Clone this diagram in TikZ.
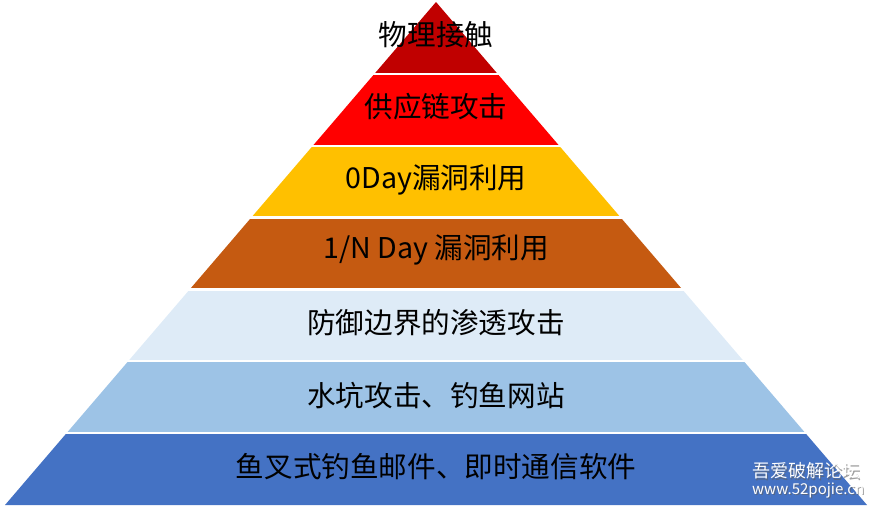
\documentclass[tikz,border=0pt]{standalone}
\usepackage{fontspec}
\setmainfont{Noto Sans CJK SC}
\newfontfamily\cjkf{Noto Sans CJK SC}
\definecolor{lay1}{HTML}{C00000}
\definecolor{lay2}{HTML}{FF0000}
\definecolor{lay3}{HTML}{FFC000}
\definecolor{lay4}{HTML}{C55A11}
\definecolor{lay5}{HTML}{DEEBF7}
\definecolor{lay6}{HTML}{9DC3E6}
\definecolor{lay7}{HTML}{4472C4}
\definecolor{wmshadow}{HTML}{606060}
\tikzset{
  lbl/.style={font=\cjkf\fontsize{28.6}{31}\selectfont, text=black, inner sep=0pt, anchor=center},
  wm/.style={font=\cjkf\fontsize{#1}{#1}\selectfont, inner sep=0pt, anchor=west},
  sep/.style={draw=white, line width=2.2pt}
}
\begin{document}
\begin{tikzpicture}[x=1pt,y=-1pt]
\useasboundingbox (0,0) rectangle (872,508);
% layers
\foreach \i/\c in {0/lay1,1/lay2,2/lay3,3/lay4,4/lay5,5/lay6,6/lay7}{
  \pgfmathsetmacro{\ya}{2+\i*71.857}
  \pgfmathsetmacro{\yb}{2+(\i+1)*71.857}
  \pgfmathsetmacro{\wa}{(\ya-2)*0.85686}
  \pgfmathsetmacro{\wb}{(\yb-2)*0.85686}
  \fill[\c] ({436-\wa},\ya) -- ({436+\wa},\ya) -- ({436+\wb},\yb) -- ({436-\wb},\yb) -- cycle;
}
\foreach \i in {1,...,6}{
  \pgfmathsetmacro{\ya}{2+\i*71.857}
  \draw[sep] (0,\ya) -- (872,\ya);
}
% labels
\node[lbl] (t1) at (436,35) {物理接触};
\node[lbl] (t2) at (436,107) {供应链攻击};
\node[lbl] (t3) at (436,180) {0Day漏洞利用};
\node[lbl] (t4) at (436,250) {1/N Day 漏洞利用};
\node[lbl] (t5) at (436,323) {防御边界的渗透攻击};
\node[lbl] (t6) at (436,396) {水坑攻击、钓鱼网站};
\node[lbl] (t7) at (436,467) {鱼叉式钓鱼邮件、即时通信软件};
% watermark
\node[wm=18, text=wmshadow, opacity=0.6] (w1s) at (753.2,472.2) {吾爱破解论坛};
\node[wm=18, text=white] (w1) at (752,471) {吾爱破解论坛};
\node[wm=15, text=wmshadow, opacity=0.6] (w2s) at (753.2,491.2) {www.52pojie.cn};
\node[wm=15, text=white] (w2) at (752,490) {www.52pojie.cn};
\end{tikzpicture}
\end{document}
